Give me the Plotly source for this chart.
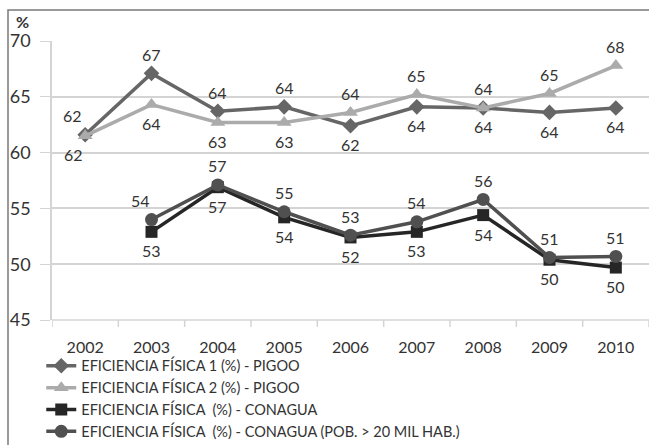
import plotly.graph_objects as go

years = ["2002", "2003", "2004", "2005", "2006", "2007", "2008", "2009", "2010"]

pigoo_1 = [61.6, 67.1, 63.7, 64.1, 62.4, 64.1, 64.0, 63.6, 64.0]
pigoo_2 = [61.5, 64.3, 62.7, 62.7, 63.6, 65.2, 64.0, 65.3, 67.8]
conagua = [None, 52.9, 56.9, 54.2, 52.4, 52.9, 54.4, 50.4, 49.7]
conagua_20k = [None, 54.0, 57.1, 54.7, 52.6, 53.8, 55.8, 50.6, 50.7]

names = [
    "EFICIENCIA FÍSICA 1 (%) - PIGOO",
    "EFICIENCIA FÍSICA 2 (%) - PIGOO",
    "EFICIENCIA FÍSICA  (%) - CONAGUA",
    "EFICIENCIA FÍSICA  (%) - CONAGUA (POB. > 20 MIL HAB.)",
]

FONT = "Lato"
TXT = "#333333"
GRID = "#d4d4d4"

# label side per point: +1 above the marker, -1 below
series = [
    dict(y=pigoo_1, name=names[0], color="#666666", symbol="diamond", size=12,
         side=[1, 1, 1, 1, -1, -1, -1, -1, -1],
         dx=[-13, 0, 0, 0, 0, 0, 0, 0, 0]),
    dict(y=pigoo_2, name=names[1], color="#ababab", symbol="triangle-up", size=13,
         side=[-1, -1, -1, -1, 1, 1, 1, 1, 1],
         dx=[-12, 0, 0, 0, 0, 0, 0, 0, 0]),
    dict(y=conagua, name=names[2], color="#262626", symbol="square", size=12,
         side=[-1] * 9, dx=[0] * 9),
    dict(y=conagua_20k, name=names[3], color="#505050", symbol="circle", size=13,
         side=[1] * 9, dx=[0, -11, 0, 0, 0, 0, 0, 0, 0]),
]

fig = go.Figure()

for s in series:
    fig.add_trace(go.Scatter(
        x=years, y=s["y"], name=s["name"], mode="lines+markers",
        line=dict(color=s["color"], width=3.5),
        marker=dict(symbol=s["symbol"], size=s["size"], color=s["color"]),
        connectgaps=False,
    ))

# value labels next to each marker (x given as category index)
annotations = []
for s in series:
    for i, (v, side, dx) in enumerate(zip(s["y"], s["side"], s["dx"])):
        if v is None:
            continue
        annotations.append(dict(
            x=i, y=v, xref="x", yref="y", text=f"{v:.0f}", showarrow=False,
            xanchor="center", yanchor="middle", xshift=dx, yshift=19 * side,
            font=dict(family=FONT, size=16, color=TXT),
        ))

annotations.append(dict(
    text="<b>%</b>", xref="paper", yref="paper", x=(22 - 52) / 597, y=1.0,
    xanchor="center", yanchor="bottom", yshift=8, showarrow=False,
    font=dict(family=FONT, size=16, color=TXT),
))

fig.update_layout(
    width=649, height=445,
    margin=dict(l=52, r=0, t=41, b=125, autoexpand=False),
    paper_bgcolor="white", plot_bgcolor="white",
    font=dict(family=FONT, size=16, color=TXT),
    showlegend=True,
    legend=dict(
        x=-0.018, y=-0.107, xanchor="left", yanchor="top",
        font=dict(family=FONT, size=14.5, color=TXT),
        tracegroupgap=0, itemwidth=30,
        bgcolor="rgba(0,0,0,0)",
    ),
    xaxis=dict(
        type="category", showgrid=False, zeroline=False,
        showline=False, ticks="outside", ticklen=0,
        ticklabelstandoff=13,
        tickfont=dict(family=FONT, size=16, color=TXT),
        range=[-0.5, 8.5],
    ),
    yaxis=dict(
        range=[45, 70], dtick=5, showgrid=True, gridcolor=GRID, gridwidth=1.5,
        zeroline=False, showline=True, linecolor=GRID, linewidth=1.5,
        ticks="outside", ticklen=10, tickcolor=GRID,
        ticklabelstandoff=6,
        tickfont=dict(family=FONT, size=18, color=TXT),
    ),
    annotations=annotations,
    shapes=[
        # outer frame (left and top edges visible)
        dict(type="rect", xref="paper", yref="paper",
             x0=(8 - 52) / 597, x1=1.2, y0=-0.6, y1=(320 - 10) / 279,
             line=dict(color="#7a7a7a", width=1.5), layer="below"),
        dict(type="line", xref="paper", yref="paper", x0=0, x1=1, y0=0, y1=0,
             line=dict(color=GRID, width=1.5)),
    ],
)

# boundary tick marks between categories
for i in range(10):
    fig.add_shape(type="line", xref="x", yref="paper",
                  x0=i - 0.5, x1=i - 0.5, y0=0, y1=-0.025,
                  line=dict(color=GRID, width=1.5))

fig.write_html("out.html")
